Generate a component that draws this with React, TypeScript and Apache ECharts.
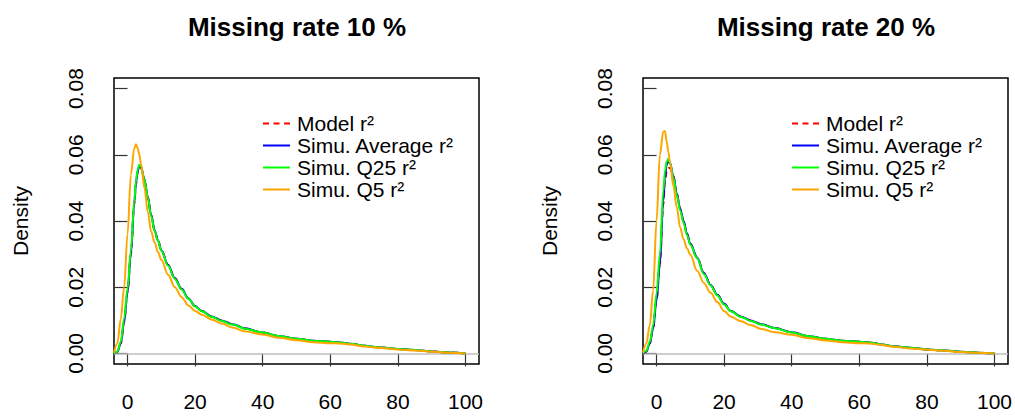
import React, { useEffect, useRef } from "react";
import * as echarts from "echarts";

const titles = ["Missing rate 10 %", "Missing rate 20 %"];
const seriesNames = ["Model r²", "Simu. Average r²", "Simu. Q25 r²", "Simu. Q5 r²"];
const xTicks = [0, 20, 40, 60, 80, 100];
const yTicks = [0, 0.02, 0.04, 0.06, 0.08];

const X = [-4, -3, -2, -1, 0, 1, 2, 2.5, 3, 3.5, 4, 5, 6, 7, 8, 9, 10, 12, 14, 16, 18, 20, 22, 25, 28, 31, 35, 40, 45, 50, 55, 60, 63, 66, 70, 75, 80, 85, 90, 95, 100];

// Missing rate 10 %
const left_model = [0, 0.0005, 0.003, 0.0095, 0.0185, 0.030, 0.045, 0.051, 0.0545, 0.0562, 0.056, 0.0525, 0.0472, 0.0418, 0.0372, 0.0342, 0.0312, 0.0267, 0.0227, 0.0195, 0.0166, 0.0143, 0.0128, 0.0111, 0.0099, 0.0088, 0.0075, 0.0063, 0.0052, 0.0044, 0.0038, 0.0035, 0.0033, 0.0029, 0.0023, 0.0018, 0.0013, 0.001, 0.0006, 0.0003, 0];
const left_avg = [0, 0.0005, 0.003, 0.0095, 0.0185, 0.030, 0.0455, 0.0515, 0.055, 0.0567, 0.0563, 0.0525, 0.0472, 0.0418, 0.0372, 0.0342, 0.0312, 0.0267, 0.0227, 0.0195, 0.0166, 0.0143, 0.0128, 0.0111, 0.0099, 0.0088, 0.0075, 0.0063, 0.0052, 0.0044, 0.0038, 0.0035, 0.0033, 0.0029, 0.0023, 0.0018, 0.0013, 0.001, 0.0006, 0.0003, 0];
const left_q25 = [0, 0.0006, 0.0035, 0.0105, 0.0195, 0.031, 0.046, 0.052, 0.0555, 0.057, 0.0565, 0.0525, 0.047, 0.0415, 0.037, 0.034, 0.031, 0.0265, 0.0225, 0.0193, 0.0165, 0.0142, 0.0127, 0.011, 0.0098, 0.0087, 0.0074, 0.0063, 0.0052, 0.0044, 0.0038, 0.0035, 0.0033, 0.0029, 0.0023, 0.0018, 0.0013, 0.001, 0.0006, 0.0003, 0];
const left_q5 = [0.0002, 0.003, 0.0105, 0.020, 0.036, 0.054, 0.062, 0.0632, 0.062, 0.060, 0.0572, 0.050, 0.0428, 0.0368, 0.0335, 0.0306, 0.0283, 0.0238, 0.020, 0.017, 0.0145, 0.0128, 0.0117, 0.0102, 0.009, 0.0078, 0.0066, 0.0057, 0.0047, 0.004, 0.0034, 0.0031, 0.003, 0.0027, 0.0021, 0.0016, 0.0012, 0.0009, 0.0005, 0.0002, 0];

// Missing rate 20 %
const right_model = [0, 0.0006, 0.003, 0.0075, 0.016, 0.027, 0.045, 0.052, 0.055, 0.056, 0.056, 0.0535, 0.0482, 0.0437, 0.040, 0.0362, 0.0331, 0.029, 0.0243, 0.0207, 0.0177, 0.015, 0.0128, 0.0111, 0.0099, 0.0088, 0.0077, 0.0064, 0.0052, 0.0044, 0.0038, 0.0035, 0.0033, 0.0028, 0.0022, 0.0017, 0.0012, 0.0009, 0.0005, 0.0002, 0];
const right_avg = [0, 0.0006, 0.003, 0.0075, 0.016, 0.027, 0.046, 0.053, 0.057, 0.0581, 0.0575, 0.0535, 0.0482, 0.0437, 0.040, 0.0362, 0.0331, 0.029, 0.0243, 0.0207, 0.0177, 0.015, 0.0128, 0.0111, 0.0099, 0.0088, 0.0077, 0.0064, 0.0052, 0.0044, 0.0038, 0.0035, 0.0033, 0.0028, 0.0022, 0.0017, 0.0012, 0.0009, 0.0005, 0.0002, 0];
const right_q25 = [0, 0.0008, 0.0035, 0.0085, 0.018, 0.030, 0.049, 0.055, 0.058, 0.0588, 0.0575, 0.053, 0.0478, 0.0432, 0.0395, 0.0358, 0.0328, 0.0288, 0.024, 0.0205, 0.0175, 0.0148, 0.0127, 0.011, 0.0098, 0.0087, 0.0076, 0.0063, 0.0052, 0.0044, 0.0038, 0.0035, 0.0033, 0.0028, 0.0022, 0.0017, 0.0012, 0.0009, 0.0005, 0.0002, 0];
const right_q5 = [0.0003, 0.003, 0.0085, 0.019, 0.040, 0.060, 0.067, 0.0672, 0.064, 0.061, 0.0575, 0.0505, 0.044, 0.038, 0.0345, 0.0318, 0.0298, 0.025, 0.0213, 0.0183, 0.0155, 0.0128, 0.0111, 0.0097, 0.0085, 0.0074, 0.0064, 0.0056, 0.0046, 0.0039, 0.0034, 0.0031, 0.003, 0.0026, 0.002, 0.0015, 0.0011, 0.0008, 0.0004, 0.0002, 0];

const panels = [
  [left_model, left_avg, left_q25, left_q5],
  [right_model, right_avg, right_q25, right_q5],
];

const colors = ["#ff0000", "#0000ff", "#00ff00", "#ffa500"];
const FONT = "'Liberation Sans', Arial, Helvetica, sans-serif";
const SOLID_ICON = "path://M0,0H27V2H0Z";
const DASH_ICON = "path://M0,0H6V2H0Z M10.5,0H16.5V2H10.5Z M21,0H27V2H21Z";

export default function App() {
  const ref = useRef<HTMLDivElement>(null);
  useEffect(() => {
    if (!ref.current) return;
    const chart = echarts.init(ref.current, undefined, { renderer: "svg" });
    const gridLefts = [114, 643];
    const grids = gridLefts.map((l) => ({
      left: l,
      top: 78,
      width: 365,
      height: 286,
      show: true,
      borderColor: "#000",
      borderWidth: 1.5,
      backgroundColor: "transparent",
    }));
    const xAxes = gridLefts.map((_, i) => ({
      type: "value",
      gridIndex: i,
      min: -4,
      max: 104,
      splitLine: { show: false },
      axisLine: { show: false },
      axisTick: { show: true, inside: false, length: 13, customValues: xTicks, lineStyle: { color: "#333", width: 1.2 } },
      axisLabel: { customValues: xTicks, margin: 27, fontSize: 21, color: "#000", fontFamily: FONT },
    }));
    const yAxes = gridLefts.map((_, i) => ({
      type: "value",
      gridIndex: i,
      min: -0.0032,
      max: 0.0832,
      name: "Density",
      nameLocation: "middle",
      nameRotate: 90,
      nameGap: 83,
      nameTextStyle: { fontSize: 21, color: "#000", fontFamily: FONT },
      splitLine: { show: false },
      axisLine: { show: false },
      axisTick: { show: true, inside: false, length: 13, customValues: yTicks, lineStyle: { color: "#333", width: 1.2 } },
      axisLabel: {
        customValues: yTicks,
        rotate: 90,
        margin: 28,
        fontSize: 21,
        color: "#000",
        fontFamily: FONT,
        formatter: (v: number) => v.toFixed(2),
      },
    }));
    const series: any[] = [];
    panels.forEach((p, gi) => {
      [0, 1, 2, 3].forEach((k) => {
        const s: any = {
          type: "line",
          name: seriesNames[k],
          xAxisIndex: gi,
          yAxisIndex: gi,
          data: X.map((x, i) => [x, p[k][i]]),
          smooth: 0.35,
          smoothMonotone: "x",
          symbol: "none",
          showSymbol: false,
          clip: true,
          z: 3 + k,
          lineStyle: { color: colors[k], width: 2, type: k === 0 ? [6, 4] : "solid" },
          itemStyle: { color: colors[k] },
        };
        if (k === 0) {
          s.markLine = {
            silent: true,
            symbol: "none",
            label: { show: false },
            z: 1,
            lineStyle: { color: "#bebebe", type: "solid", width: 1.5 },
            data: [{ yAxis: 0 }],
          };
        }
        series.push(s);
      });
    });
    const legendLefts = [263, 792];
    chart.setOption({
      animation: false,
      backgroundColor: "#fff",
      title: titles.map((t, i) => ({
        text: t,
        left: gridLefts[i] + 178,
        top: 9,
        textAlign: "center",
        textStyle: { fontSize: 26, fontWeight: "bold", color: "#000", fontFamily: FONT },
      })),
      legend: legendLefts.map((l) => ({
        orient: "vertical",
        left: l,
        top: 113,
        padding: 0,
        itemWidth: 27,
        itemHeight: 2,
        itemGap: 1,
        selectedMode: false,
        data: seriesNames.map((n, k) => ({
          name: n,
          icon: k === 0 ? DASH_ICON : SOLID_ICON,
          itemStyle: { color: colors[k], borderWidth: 0 },
        })),
        textStyle: { fontSize: 21, color: "#000", fontFamily: FONT, lineHeight: 20, padding: [0, 0, 0, 2] },
      })),
      grid: grids,
      xAxis: xAxes,
      yAxis: yAxes,
      series,
    });
    return () => chart.dispose();
  }, []);
  return (
    <div
      ref={ref}
      style={{ position: "fixed", left: 0, top: 0, width: 1015, height: 418, background: "#fff" }}
    />
  );
}
